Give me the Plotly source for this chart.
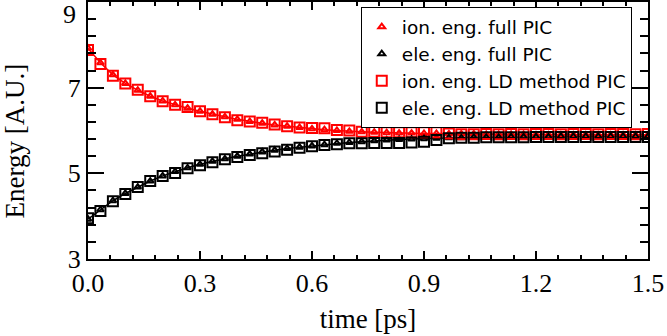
import plotly.graph_objects as go

time_ps = [0.0, 0.0333, 0.0667, 0.1, 0.1333, 0.1667, 0.2, 0.2333, 0.2667, 0.3,
           0.3333, 0.3667, 0.4, 0.4333, 0.4667, 0.5, 0.5333, 0.5667, 0.6, 0.6333,
           0.6667, 0.7, 0.7333, 0.7667, 0.8, 0.8333, 0.8667, 0.9, 0.9333, 0.9667,
           1.0, 1.0333, 1.0667, 1.1, 1.1333, 1.1667, 1.2, 1.2333, 1.2667, 1.3,
           1.3333, 1.3667, 1.4, 1.4333, 1.4667, 1.5]

ion_full = [7.92, 7.58, 7.30, 7.10, 6.94, 6.80, 6.69, 6.60, 6.52, 6.45,
            6.38, 6.32, 6.26, 6.21, 6.17, 6.13, 6.10, 6.07, 6.04, 6.02,
            6.00, 5.98, 5.97, 5.96, 5.95, 5.94, 5.94, 5.93, 5.93, 5.92,
            5.92, 5.92, 5.91, 5.91, 5.91, 5.91, 5.90, 5.90, 5.90, 5.90,
            5.90, 5.90, 5.90, 5.90, 5.90, 5.90]
ele_full = [3.93, 4.15, 4.36, 4.53, 4.68, 4.82, 4.94, 5.04, 5.13, 5.21,
            5.28, 5.34, 5.40, 5.45, 5.50, 5.54, 5.58, 5.61, 5.64, 5.67,
            5.70, 5.72, 5.74, 5.76, 5.78, 5.79, 5.80, 5.81, 5.82, 5.83,
            5.83, 5.84, 5.84, 5.84, 5.85, 5.85, 5.85, 5.85, 5.86, 5.86,
            5.86, 5.86, 5.86, 5.86, 5.86, 5.86]
ion_ld = [7.88, 7.55, 7.28, 7.10, 6.95, 6.80, 6.68, 6.60, 6.55, 6.45,
          6.38, 6.31, 6.24, 6.21, 6.18, 6.14, 6.10, 6.07, 6.06, 6.05,
          6.01, 6.00, 5.97, 5.97, 5.96, 5.96, 5.96, 5.96, 5.96, 5.93,
          5.91, 5.91, 5.92, 5.91, 5.92, 5.91, 5.92, 5.92, 5.91, 5.92,
          5.92, 5.91, 5.92, 5.92, 5.91, 5.92]
ele_ld = [3.95, 4.12, 4.35, 4.52, 4.68, 4.82, 4.94, 5.01, 5.12, 5.19,
          5.26, 5.33, 5.38, 5.43, 5.47, 5.51, 5.55, 5.60, 5.63, 5.66,
          5.68, 5.70, 5.70, 5.71, 5.71, 5.71, 5.72, 5.74, 5.78, 5.82,
          5.83, 5.83, 5.84, 5.84, 5.84, 5.84, 5.85, 5.85, 5.85, 5.85,
          5.85, 5.85, 5.85, 5.85, 5.85, 5.85]

y_ticks = [3, 5, 7, 9]
y_tick_text = ['3', '5', '7', '']   # the top "9" is placed as an annotation below

RED = '#ff0000'
BLACK = '#000000'

fig = go.Figure()

# lines of the full PIC runs (no legend entry, legend shows symbols only)
for ys, col in [(ion_full, RED), (ele_full, BLACK)]:
    fig.add_trace(go.Scatter(x=time_ps, y=ys, mode='lines',
                             line=dict(color=col, width=1.5), showlegend=False))

series = [
    ('ion. eng. full PIC', ion_full, RED, 'triangle-up-open', 6),
    ('ele. eng. full PIC', ele_full, BLACK, 'triangle-up-open', 6),
    ('ion. eng. LD method PIC', ion_ld, RED, 'square-open', 10),
    ('ele. eng. LD method PIC', ele_ld, BLACK, 'square-open', 10),
]
for name, ys, col, sym, sz in series:
    fig.add_trace(go.Scatter(x=time_ps, y=ys, mode='markers', name=name,
                             marker=dict(symbol=sym, size=sz, color=col,
                                         line=dict(color=col, width=2))))

serif = 'Liberation Serif'
fig.update_layout(
    width=667, height=336,
    margin=dict(l=88, r=19, t=2, b=77),
    paper_bgcolor='white', plot_bgcolor='white',
    font=dict(family=serif, color='black'),
    legend=dict(x=0.971, y=0.98, xanchor='right', yanchor='top',
                bgcolor='white', bordercolor='black', borderwidth=1,
                font=dict(family='DejaVu Sans', size=18.5, color='black'),
                itemwidth=30, tracegroupgap=0),
)
fig.update_xaxes(
    range=[0, 1.5], tick0=0, dtick=0.3, tickformat='.1f',
    ticks='inside', ticklen=8, tickwidth=2, tickcolor='black',
    minor=dict(ticks='inside', dtick=0.06, tick0=0, ticklen=4, tickwidth=2,
               tickcolor='black'),
    showline=True, linewidth=2, linecolor='black', mirror='ticks',
    showgrid=False, zeroline=False, automargin=False,
    ticklabeloverflow='allow',
    tickfont=dict(family=serif, size=26, color='black'),
    title=dict(text='time [ps]', font=dict(family=serif, size=27), standoff=12),
)
fig.update_yaxes(
    range=[3, 9], tickmode='array', tickvals=y_ticks, ticktext=y_tick_text,
    ticks='inside', ticklen=16, tickwidth=2, tickcolor='black',
    minor=dict(ticks='inside', tickmode='linear', dtick=0.4, tick0=3,
               ticklen=8, tickwidth=2, tickcolor='black'),
    showline=True, linewidth=2, linecolor='black', mirror='ticks',
    showgrid=False, zeroline=False, automargin=False,
    ticklabeloverflow='allow',
    tickfont=dict(family=serif, size=26, color='black'),
)
fig.add_annotation(text='9', xref='paper', yref='y', x=-0.018, y=9,
                   xanchor='right', yanchor='top', showarrow=False,
                   font=dict(family=serif, size=26, color='black'), yshift=4)
fig.add_annotation(text='Energy [A.U.]', xref='paper', yref='paper',
                   x=-0.13, y=0.458, textangle=-90, showarrow=False,
                   xanchor='center', yanchor='middle',
                   font=dict(family=serif, size=27, color='black'))

fig.write_html("out.html", post_script="document.body.style.margin='0';",
               config={'displayModeBar': False})
